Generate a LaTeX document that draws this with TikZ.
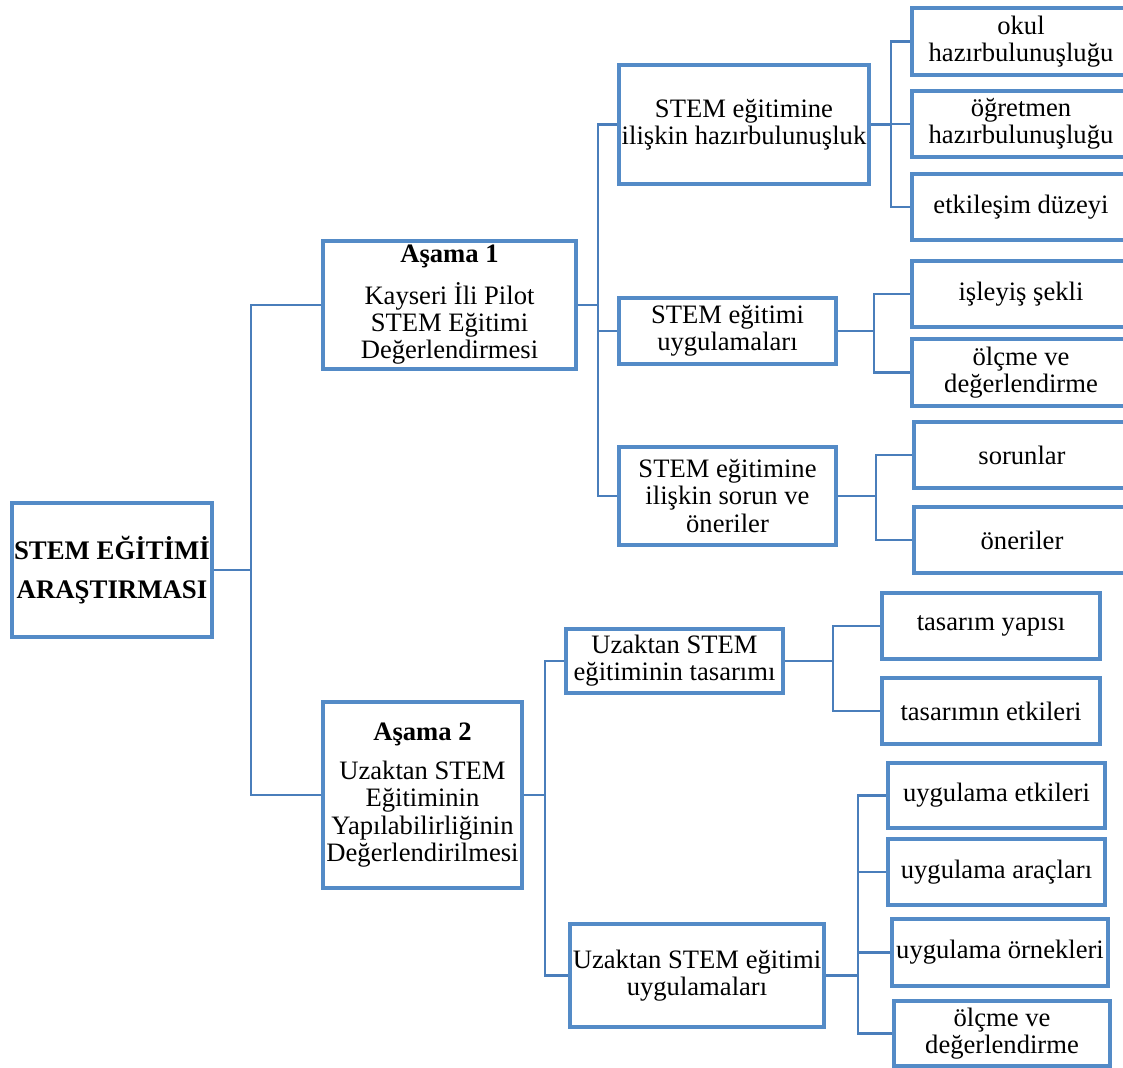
\documentclass[tikz,border=0pt]{standalone}
\usepackage{fontspec}
\setmainfont{Liberation Serif}
\definecolor{boxblue}{RGB}{84,139,199}
\definecolor{lineblue}{RGB}{74,126,187}
\tikzset{box/.style={draw=boxblue, line width=1.8pt, rectangle, align=center,
    inner sep=1pt, font=\fontsize{13.3}{13.6}\selectfont},
    leaf/.style={box, minimum width=109pt, minimum height=33pt},
    link/.style={draw=lineblue, line width=1.1pt}}

\begin{document}
\begin{tikzpicture}[x=0.5pt, y=-0.5pt]
    \useasboundingbox (0,0) rectangle (1123,1068);
    % root and the two stages
    \node[box, minimum width=99pt, minimum height=67pt,
          font=\fontsize{13.4}{19.5}\selectfont\bfseries] (root) at (112,570) {STEM EĞİTİMİ\\ARAŞTIRMASI};
    \node[box, minimum width=126.5pt, minimum height=64pt] (a1) at (449.5,305)
        {\textbf{Aşama 1}\\[6pt]Kayseri İli Pilot\\STEM Eğitimi\\Değerlendirmesi};
    \node[box, minimum width=99.5pt, minimum height=93pt] (a2) at (422.5,795)
        {\textbf{Aşama 2}\\[6pt]Uzaktan STEM\\Eğitiminin\\Yapılabilirliğinin\\Değerlendirilmesi};

    % stage 1 themes
    \node[box, minimum width=125pt, minimum height=59.5pt] (hzr) at (744,124.5) {STEM eğitimine\\ilişkin hazırbulunuşluk};
    \node[box, minimum width=108.5pt, minimum height=33pt] (uyg) at (727.5,331) {STEM eğitimi\\uygulamaları};
    \node[box, minimum width=108.5pt, minimum height=49pt] (srn) at (727.5,496) {STEM eğitimine\\ilişkin sorun ve\\öneriler};

    \node[leaf, minimum height=33.5pt] (okul) at (1021,41.5) {okul\\hazırbulunuşluğu};
    \node[leaf] (ogrt) at (1021,124) {öğretmen\\hazırbulunuşluğu};
    \node[leaf] (etks) at (1021,207) {etkileşim düzeyi};
    \node[leaf] (isly) at (1021,294) {işleyiş şekli};
    \node[leaf, minimum height=33.5pt] (olcA) at (1021,372.5) {ölçme ve\\değerlendirme};
    \node[leaf, minimum width=108pt] (sorun) at (1022,455) {sorunlar};
    \node[leaf, minimum width=108pt] (oner) at (1022,540) {öneriler};

    % stage 2 themes
    \node[box, minimum width=108.5pt, minimum height=32pt] (tsr) at (674.5,661) {Uzaktan STEM\\eğitiminin tasarımı};
    \node[box, minimum width=127pt, minimum height=51.5pt] (uzu) at (697,975.5) {Uzaktan STEM eğitimi\\uygulamaları};

    \node[leaf] (tyap) at (991,626) {tasarım yapısı};
    \node[leaf] (tetk) at (991,711) {tasarımın etkileri};
    \node[leaf, minimum width=108.5pt, minimum height=32.5pt] (uetk) at (996.5,795.5) {uygulama etkileri};
    \node[leaf, minimum width=108.5pt] (uarc) at (996.5,872) {uygulama araçları};
    \node[leaf, minimum width=108pt, minimum height=33.5pt] (uorn) at (1000,952.5) {uygulama örnekleri};
    \node[leaf, minimum width=108pt, minimum height=32.5pt] (olcB) at (1002,1033.5) {ölçme ve\\değerlendirme};

    % branch points
    \coordinate (j0) at (251,570);
    \coordinate (j1) at (598,305);
    \coordinate (j11) at (891,124.5);
    \coordinate (j12) at (874,331);
    \coordinate (j13) at (876,496);
    \coordinate (j2) at (545,795);
    \coordinate (j21) at (833,661);
    \coordinate (j22) at (858,975.5);

    \draw[link] (root.east) -- (j0) |- (a1.west);
    \draw[link] (j0) |- (a2.west);

    \draw[link] (a1.east) -- (j1) |- (hzr.west);
    \draw[link] (j1) |- (uyg.west);
    \draw[link] (j1) |- (srn.west);

    \draw[link] (hzr.east) -- (j11) |- (okul.west);
    \draw[link] (j11) |- (ogrt.west);
    \draw[link] (j11) |- (etks.west);
    \draw[link] (uyg.east) -- (j12) |- (isly.west);
    \draw[link] (j12) |- (olcA.west);
    \draw[link] (srn.east) -- (j13) |- (sorun.west);
    \draw[link] (j13) |- (oner.west);

    \draw[link] (a2.east) -- (j2) |- (tsr.west);
    \draw[link] (j2) |- (uzu.west);

    \draw[link] (tsr.east) -- (j21) |- (tyap.west);
    \draw[link] (j21) |- (tetk.west);
    \draw[link] (uzu.east) -- (j22) |- (uetk.west);
    \draw[link] (j22) |- (uarc.west);
    \draw[link] (j22) |- (uorn.west);
    \draw[link] (j22) |- (olcB.west);
\end{tikzpicture}
\end{document}
